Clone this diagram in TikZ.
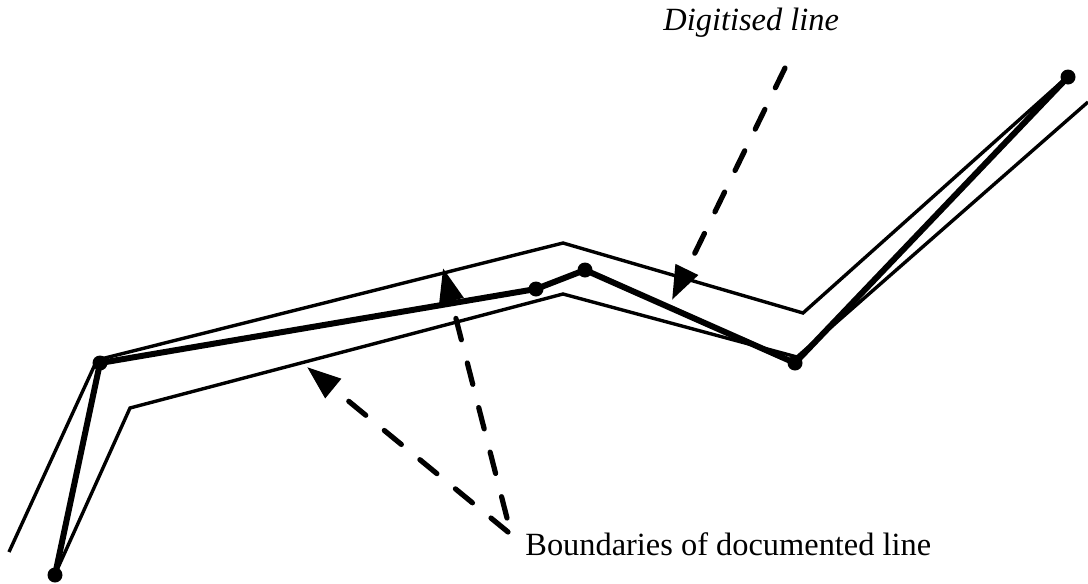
\documentclass[tikz,border=0pt]{standalone}
\usepackage{fontspec}
\setmainfont{Liberation Serif}
\usepackage{tikz}
\usetikzlibrary{arrows.meta, positioning}

\begin{document}
\begin{tikzpicture}[x=0.5pt, y=-0.5pt,
  boundary/.style={line width=1.7pt, line join=miter},
  digitised/.style={line width=3pt, line join=round},
  vertex/.style={circle, fill=black, inner sep=0pt, minimum size=7.5pt},
  pointer/.style={-{Triangle[length=17pt, width=12pt]}, line width=2.6pt, line cap=round, dash pattern=on 11pt off 12pt},
  label/.style={inner sep=0pt, font=\fontsize{16.2}{19}\selectfont}
]
  \useasboundingbox (0,0) rectangle (1088,584);

  % documented line boundaries
  \coordinate (upA) at (9,552);
  \coordinate (upB) at (97,360);
  \coordinate (upC) at (563,243);
  \coordinate (upD) at (803,313);
  \coordinate (upE) at (1066,78);
  \coordinate (loA) at (57,570);
  \coordinate (loB) at (130,408);
  \coordinate (loC) at (563,294);
  \coordinate (loD) at (797,357);
  \coordinate (loE) at (1088,102);
  \draw[boundary] (upA) -- (upB) -- (upC) -- (upD) -- (upE);
  \draw[boundary] (loA) -- (loB) -- (loC) -- (loD) -- (loE);

  % digitised line
  \node[vertex] (p1) at (55,575) {};
  \node[vertex] (p2) at (100,363) {};
  \node[vertex] (p3) at (536,289) {};
  \node[vertex] (p4) at (585,270) {};
  \node[vertex] (p5) at (795,363) {};
  \node[vertex] (p6) at (1068,77) {};
  \draw[digitised] (p1.center) -- (p2.center) -- (p3.center) -- (p4.center) -- (p5.center) -- (p6.center);

  % labels and pointers
  \node[label, anchor=base west] (digitisedLabel) at (663,30) {\itshape Digitised line};
  \node[label, anchor=base west] (boundaryLabel) at (525,555) {Boundaries of documented line};

  \coordinate (digitisedStart) at (785,68);
  \coordinate (digitisedTip) at (672,300);
  \coordinate (forkUp) at (507,518);
  \coordinate (forkLeft) at (508,532);
  \coordinate (upperTip) at (443,268);
  \coordinate (lowerTip) at (307,367);
  \draw[pointer] (digitisedStart) -- (digitisedTip);
  \draw[pointer] (forkUp) -- (upperTip);
  \draw[pointer] (forkLeft) -- (lowerTip);
\end{tikzpicture}
\end{document}
